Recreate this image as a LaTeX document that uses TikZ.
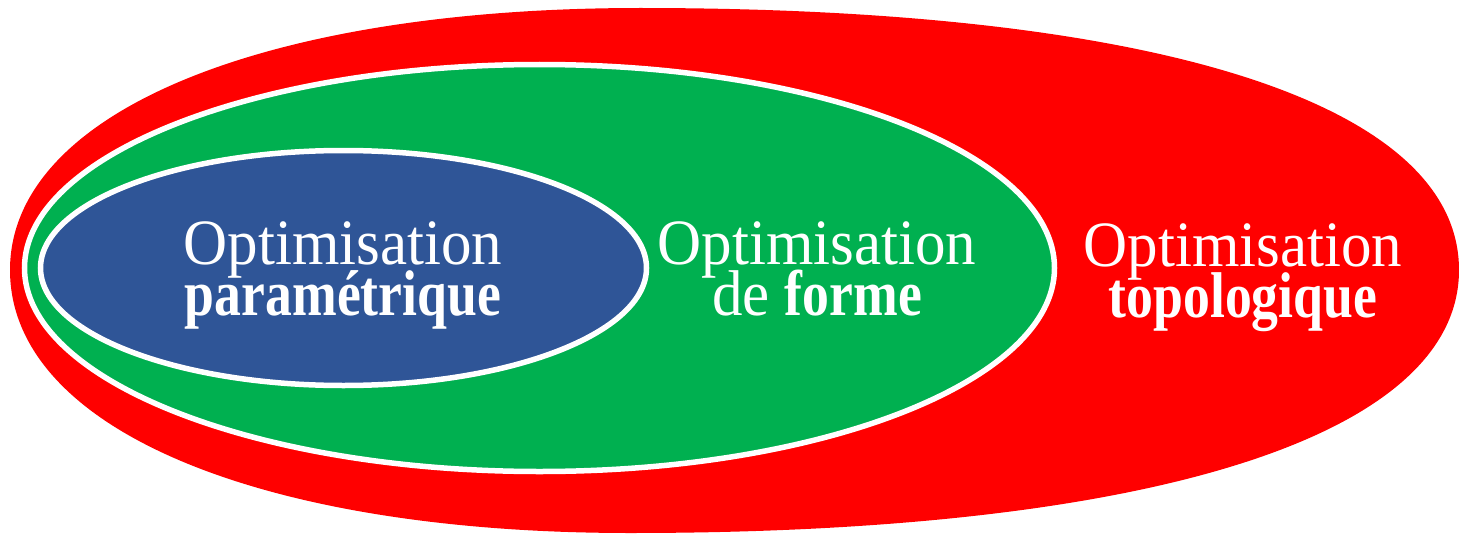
\documentclass[tikz,border=0pt]{standalone}
\usepackage{fontspec}
\setmainfont{Liberation Serif}[BoldFeatures={FakeStretch=0.88}]
\definecolor{redc}{HTML}{FF0000}
\definecolor{greenc}{HTML}{00B050}
\definecolor{bluec}{HTML}{2F5597}
\tikzset{
  lbl/.style={text=white, align=center, inner sep=0pt, yscale=1.06,
    font=\fontsize{61}{56}\selectfont},
  ring/.style={draw=white, line width=5.5pt}
}
\begin{document}
\begin{tikzpicture}[x=1pt,y=-1pt]
\useasboundingbox (0,0) rectangle (1459,535);
% outer red shape
\path[fill=redc] (10,270) .. controls (10,113) and (262,8) .. (640,8)
  .. controls (1156,8) and (1459,103) .. (1459,270)
  .. controls (1459,436) and (1152,533) .. (630,533)
  .. controls (258,533) and (10,428) .. (10,270);
% green ellipse
\path[ring, fill=greenc] (539.5,268) ellipse [x radius=515, y radius=203.5];
% blue ellipse
\path[ring, fill=bluec] (343.5,268) ellipse [x radius=303, y radius=117.5];
% labels
\node[lbl] (param) at (343,275.5) {Optimisation\\[-8pt]\textbf{paramétrique}};
\node[lbl] (forme) at (817,269) {Optimisation\\[-8pt]de \textbf{forme}};
\node[lbl] (topo) at (1243,278) {Optimisation\\[-8pt]\textbf{topologique}};
\end{tikzpicture}
\end{document}
